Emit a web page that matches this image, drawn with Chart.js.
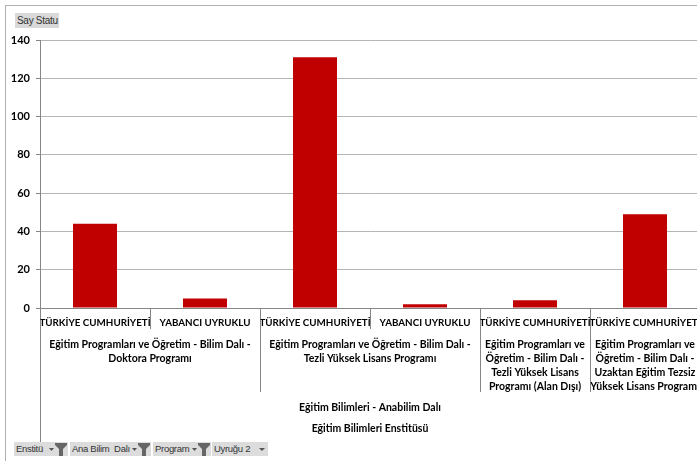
<!DOCTYPE html>
<html>
<head>
<meta charset="utf-8">
<script src="https://cdn.jsdelivr.net/npm/chart.js@4"></script>
<style>
  html, body { margin: 0; padding: 0; overflow: hidden; background: #fff; }
  #wrap { position: relative; width: 697px; height: 461px; overflow: hidden; }
  #chart { position: absolute; left: 0; top: 0; }
  .btn { position: absolute; height: 14px; background: #dcdcdc; color: #333;
         font: 9.5px "Liberation Sans", sans-serif; letter-spacing: -0.3px;
         line-height: 14px; white-space: nowrap; padding-left: 2px; box-sizing: border-box; }
  .btn svg { position: absolute; top: 0; right: 1px; }
</style>
</head>
<body>
<div id="wrap">
  <canvas id="chart" width="700" height="461"></canvas>
  <div class="btn" style="left:15px;top:13px;width:44px;height:15px;line-height:15px;background:#d9d9d9;font-size:10px">Say Statu</div>
  <div class="btn" style="left:14px;top:442px;width:54px">Enstitü<svg width="18" height="14"><polygon points="0,6 5,6 2.5,9" fill="#555"/><polygon points="6,1 18,1 18,3 14,7 14,14 10,14 10,7 6,3" fill="#666"/></svg></div>
  <div class="btn" style="left:70px;top:442px;width:81px">Ana Bilim&nbsp; Dalı<svg width="18" height="14"><polygon points="0,6 5,6 2.5,9" fill="#555"/><polygon points="6,1 18,1 18,3 14,7 14,14 10,14 10,7 6,3" fill="#666"/></svg></div>
  <div class="btn" style="left:153px;top:442px;width:58px">Program<svg width="18" height="14"><polygon points="0,6 5,6 2.5,9" fill="#555"/><polygon points="6,1 18,1 18,3 14,7 14,14 10,14 10,7 6,3" fill="#666"/></svg></div>
  <div class="btn" style="left:212px;top:442px;width:56px">Uyruğu 2<svg width="10" height="14"><polygon points="2,6 8,6 5,9" fill="#555"/></svg></div>
</div>
<script>
// pivot rows, innermost level first
const nationality = ['TÜRKİYE CUMHURİYETİ', 'YABANCI UYRUKLU', 'TÜRKİYE CUMHURİYETİ',
                     'YABANCI UYRUKLU', 'TÜRKİYE CUMHURİYETİ', 'TÜRKİYE CUMHURİYETİ'];
const programLines = [
  ['Eğitim Programları ve Öğretim - Bilim Dalı -', 'Doktora Programı'],
  ['Eğitim Programları ve Öğretim - Bilim Dalı -', 'Tezli Yüksek Lisans Programı'],
  ['Eğitim Programları ve', 'Öğretim - Bilim Dalı -', 'Tezli Yüksek Lisans', 'Programı (Alan Dışı)'],
  ['Eğitim Programları ve', 'Öğretim - Bilim Dalı -', 'Uzaktan Eğitim Tezsiz', 'Yüksek Lisans Programı']
];
const programSpans = [2, 2, 1, 1];
const department = 'Eğitim Bilimleri - Anabilim Dalı';
const institute = 'Eğitim Bilimleri Enstitüsü';
const counts = [44, 5, 131, 2, 4, 49];

const axisGray = '#868686';
const innerFont = 'bold 9.8px Lato, sans-serif';
const outerFont = 'bold 10.5px Lato, sans-serif';

const pivotAxis = {
  id: 'pivotAxis',
  beforeDraw(chart) {
    const ctx = chart.ctx;
    ctx.save();
    ctx.strokeStyle = '#b0b0b0';
    ctx.lineWidth = 1;
    ctx.strokeRect(5.5, 5.5, 900, 900);
    ctx.restore();
  },
  afterDraw(chart) {
    const ctx = chart.ctx;
    const x = chart.scales.x;
    const area = chart.chartArea;
    const w = x.getPixelForValue(1) - x.getPixelForValue(0);
    const edge = i => Math.round(x.getPixelForValue(i) - w / 2) + 0.5;

    ctx.save();
    ctx.strokeStyle = axisGray;
    ctx.lineWidth = 1;

    // group boundaries
    const groupEdges = [];
    let acc = 0;
    programSpans.forEach(s => { acc += s; groupEdges.push(acc); });

    ctx.beginPath();
    ctx.moveTo(edge(0), area.bottom);
    ctx.lineTo(edge(0), 446);
    for (let i = 1; i < nationality.length; i++) {
      ctx.moveTo(edge(i), area.bottom);
      ctx.lineTo(edge(i), groupEdges.includes(i) ? 392 : 329);
    }
    ctx.stroke();

    ctx.fillStyle = '#000';
    ctx.textAlign = 'center';
    ctx.textBaseline = 'middle';

    // level 1: nationality
    ctx.font = innerFont;
    nationality.forEach((t, i) => {
      ctx.save();
      ctx.beginPath();
      ctx.rect(edge(i), area.bottom, w, 40);
      ctx.clip();
      ctx.fillText(t, x.getPixelForValue(i), 323);
      ctx.restore();
    });

    // level 2: program
    ctx.font = outerFont;
    let start = 0;
    programLines.forEach((lines, g) => {
      const span = programSpans[g];
      const cx = (x.getPixelForValue(start) + x.getPixelForValue(start + span - 1)) / 2;
      ctx.save();
      ctx.beginPath();
      ctx.rect(edge(start), area.bottom, w * span, 100);
      ctx.clip();
      lines.forEach((t, k) => ctx.fillText(t, cx, 345 + k * 14));
      ctx.restore();
      start += span;
    });

    // level 3 and 4
    const mid = (x.getPixelForValue(0) + x.getPixelForValue(nationality.length - 1)) / 2;
    ctx.fillText(department, mid, 408);
    ctx.fillText(institute, mid, 429);
    ctx.restore();
  }
};

new Chart(document.getElementById('chart'), {
  type: 'bar',
  data: {
    labels: nationality,
    datasets: [{
      label: 'Say Statu',
      data: counts,
      backgroundColor: '#c00000',
      borderWidth: 0,
      barPercentage: 0.4,
      categoryPercentage: 1
    }]
  },
  options: {
    responsive: false,
    animation: false,
    devicePixelRatio: 1,
    layout: { padding: { top: 40, left: 0, right: 0, bottom: 0 } },
    plugins: { legend: { display: false }, tooltip: { enabled: false } },
    scales: {
      x: {
        grid: { display: false },
        ticks: { display: false },
        border: { display: true, color: axisGray },
        afterFit: s => { s.height = 153; }
      },
      y: {
        min: 0,
        max: 140,
        ticks: { stepSize: 20, color: '#000', padding: 6, font: { family: 'Lato', size: 11, weight: 'bold' } },
        grid: { color: '#b5b5b5', tickColor: axisGray, tickLength: 4 },
        border: { color: axisGray },
        afterFit: s => { s.width = 40; }
      }
    }
  },
  plugins: [pivotAxis]
});
</script>
</body>
</html>
